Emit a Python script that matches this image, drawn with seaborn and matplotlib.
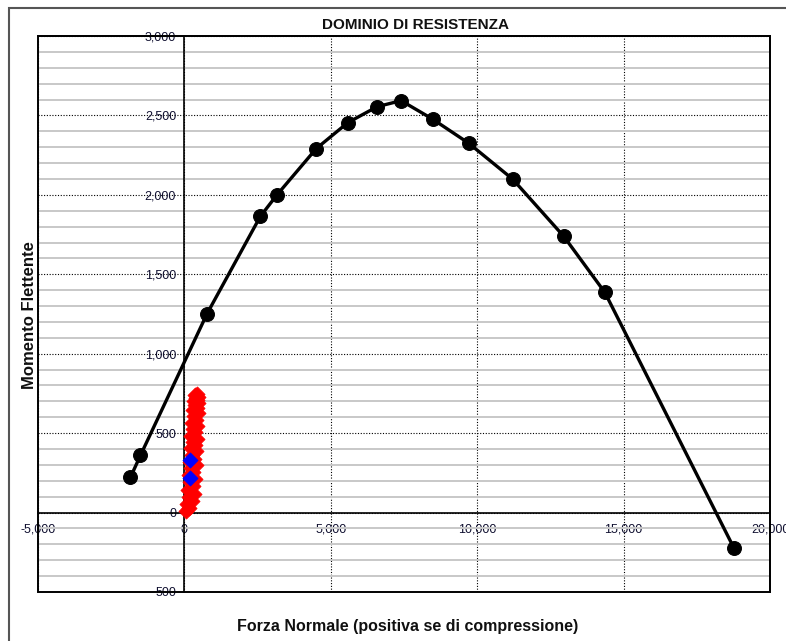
import matplotlib
matplotlib.use("Agg")
import matplotlib.pyplot as plt
from matplotlib.patches import Rectangle
import seaborn as sns
import pandas as pd

# curva del dominio di resistenza (N, M)
dominio_n = [-1842, -1501, 774, 2592, 3162, 4502, 5583, 6583, 7401,
             8476, 9710, 11211, 12960, 14359, 18759]
dominio_m = [222, 360, 1252, 1864, 2000, 2291, 2455, 2555, 2593,
             2477, 2325, 2099, 1738, 1386, -220]

# sollecitazioni di verifica (rosso)
sol_n = [60, 170, 100, 270, 160, 320, 120, 280, 190, 350, 150, 300, 220, 380,
         180, 330, 250, 400, 210, 350, 280, 420, 230, 370, 300, 440, 260, 400,
         320, 460, 290, 420, 350, 470, 320, 440, 380, 470, 360, 430]
sol_m = [10, 30, 55, 75, 100, 120, 145, 165, 190, 210, 235, 255, 280, 300,
         320, 340, 365, 385, 405, 425, 445, 465, 485, 505, 525, 545, 565, 585,
         605, 625, 645, 660, 675, 690, 700, 710, 720, 730, 740, 745]

# punti evidenziati (blu)
sel_n = [180, 180]
sel_m = [330, 220]

x_ticks = [-5000, 0, 5000, 10000, 15000, 20000]
x_tick_labels = ["-5,000", "0", "5,000", "10,000", "15,000", "20,000"]
y_ticks = [-500, 0, 500, 1000, 1500, 2000, 2500, 3000]
y_tick_labels = ["500", "0", "500", "1,000", "1,500", "2,000", "2,500", "3,000"]

sns.set_style("white")
plt.rcParams["font.family"] = ["Liberation Sans", "DejaVu Sans"]

fig = plt.figure(figsize=(7.86, 6.41), dpi=100)
ax = fig.add_axes([38 / 786, 1 - 592 / 641, (770 - 38) / 786, (592 - 36) / 641])

dom = pd.DataFrame({"N": dominio_n, "M": dominio_m})
sol = pd.DataFrame({"N": sol_n, "M": sol_m})
sel = pd.DataFrame({"N": sel_n, "M": sel_m})

sns.lineplot(data=dom, x="N", y="M", sort=False, color="black", lw=2.4,
             marker="o", markersize=10, markeredgecolor="black", ax=ax, zorder=3)
sns.scatterplot(data=sol, x="N", y="M", marker="D", color="red", s=60,
                edgecolor="red", linewidth=0.5, ax=ax, zorder=4)
sns.scatterplot(data=sel, x="N", y="M", marker="D", color="blue", s=60,
                edgecolor="blue", linewidth=0.5, ax=ax, zorder=5)

ax.set_xlim(-5000, 20000)
ax.set_ylim(-500, 3000)
ax.set_xticks(x_ticks)
ax.set_xticklabels(x_tick_labels)
ax.set_yticks(y_ticks)
ax.set_yticklabels(y_tick_labels)
ax.set_yticks(range(-500, 3001, 100), minor=True)

# griglia
ax.set_axisbelow(True)
ax.grid(which="minor", axis="y", color="#c8c8c8", lw=1.4, ls="-")
ax.grid(which="major", color="black", lw=0.8, ls=(0, (1, 1.5)))

# assi passanti per l'origine
ax.spines["left"].set_position(("data", 0))
ax.spines["bottom"].set_position(("data", 0))
for sp in ax.spines.values():
    sp.set_color("black")
    sp.set_linewidth(1.2)
ax.add_patch(Rectangle((0, 0), 1, 1, transform=ax.transAxes, fill=False,
                       edgecolor="black", lw=1.4, zorder=6, clip_on=False))

ax.tick_params(axis="y", which="major", length=3, pad=3, labelsize=9,
               labelcolor="#101030", direction="out")
ax.tick_params(axis="x", which="major", length=0, pad=8, labelsize=9,
               labelcolor="#101030")
ax.tick_params(which="minor", length=0)

ax.set_xlabel("")
ax.set_ylabel("")
fig.text(416 / 786, 1 - 25 / 641, "DOMINIO DI RESISTENZA", ha="center",
         va="center", fontsize=11, fontweight="bold", color="#101010")
fig.text(408 / 786, 1 - 626 / 641, "Forza Normale (positiva se di compressione)",
         ha="center", va="center", fontsize=11.5, fontweight="bold", color="#101010")
fig.text(30 / 786, 1 - 315 / 641, "Momento Flettente", ha="center", va="center",
         rotation=90, fontsize=12, fontweight="bold", color="#101010")

# cornice esterna
fig.patches.append(Rectangle((9 / 786, -0.1), 1.5, 1 - 8 / 641 + 0.1,
                             transform=fig.transFigure, fill=False,
                             edgecolor="#555555", lw=1.5))

fig.savefig("out.png", dpi=100)
